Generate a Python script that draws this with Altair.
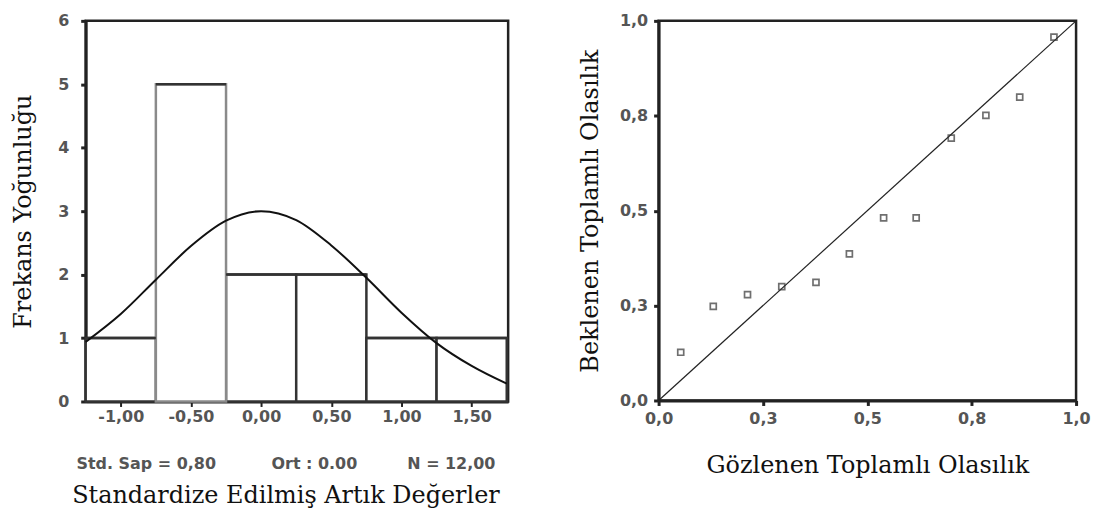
import altair as alt
import pandas as pd

# Histogram (left)
bin_start = [-1.25, -0.75, -0.25, 0.25, 0.75, 1.25]
bin_end = [-0.75, -0.25, 0.25, 0.75, 1.25, 1.75]
counts = [1, 5, 2, 2, 1, 1]
draw_order = [0, 5, 1, 2, 3, 4]  # tall bar drawn last (grey outline on top)
bar_stroke = ["#333333", "#8a8a8a", "#333333", "#333333", "#333333", "#333333"]

# Normal curve
curve_x = [-1.25, -1.0, -0.75, -0.5, -0.25, 0.0, 0.25, 0.5, 0.75, 1.0, 1.25, 1.5, 1.75]
curve_y = [0.94, 1.38, 1.92, 2.45, 2.85, 3.0, 2.86, 2.46, 1.95, 1.40, 0.92, 0.56, 0.28]

# P-P plot (right)
observed = [0.053, 0.131, 0.213, 0.295, 0.377, 0.457, 0.539, 0.617, 0.701, 0.784, 0.865, 0.947]
expected = [0.127, 0.248, 0.279, 0.300, 0.311, 0.386, 0.481, 0.481, 0.691, 0.751, 0.799, 0.957]
diag = [0.0, 1.0]

y_ticks_left = [0, 1, 2, 3, 4, 5, 6]
x_ticks_left = [-1.0, -0.5, 0.0, 0.5, 1.0, 1.5]
ticks_right = [0.0, 0.25, 0.5, 0.75, 1.0]

hist_df = pd.DataFrame({
    "start": bin_start, "end": bin_end, "count": counts,
    "order": draw_order, "stroke": bar_stroke,
})
curve_df = pd.DataFrame({"x": curve_x, "y": curve_y})
pp_df = pd.DataFrame({"obs": observed, "exp": expected})
diag_df = pd.DataFrame({"a": diag, "b": diag})

LABEL_FONT = "DejaVu Sans"
SERIF = "DejaVu Serif"
NB = "\u00a0"

xl = alt.Scale(domain=[-1.25, 1.76], nice=False, zero=False)
yl = alt.Scale(domain=[0, 6], nice=False)

x_axis_left = alt.Axis(
    values=x_ticks_left, title=None, grid=False, labelFlush=False,
    labelExpr="replace(replace(format(datum.value, '.2f'), '.', ','), '\u2212', '-')",
    labelFont=LABEL_FONT, labelFontSize=16, labelFontWeight="bold", labelColor="#555555",
    labelPadding=2, tickSize=5, tickWidth=2, tickColor="#222222",
    domainColor="#222222", domainWidth=3,
)
y_axis_left = alt.Axis(
    values=y_ticks_left, title="Frekans Yoğunluğu", grid=False, format="d", labelFlush=False,
    labelFont=LABEL_FONT, labelFontSize=16, labelFontWeight="bold", labelColor="#555555",
    labelPadding=12, tickSize=5, tickWidth=3, tickColor="#222222",
    domainColor="#222222", domainWidth=3,
    titleFont=SERIF, titleFontSize=24, titleFontWeight="normal", titleColor="#111111",
    titlePadding=22,
)

bars = alt.Chart(hist_df).mark_rect(fill="white", strokeWidth=2.5).encode(
    x=alt.X("start:Q", scale=xl, axis=x_axis_left),
    x2="end:Q",
    y=alt.Y("count:Q", scale=yl, axis=y_axis_left),
    y2=alt.datum(0),
    stroke=alt.Stroke("stroke:N", scale=None),
    order=alt.Order("order:Q"),
)

tops = alt.Chart(hist_df).mark_rule(color="#333333", strokeWidth=2.5).encode(
    x=alt.X("start:Q", scale=xl),
    x2="end:Q",
    y=alt.Y("count:Q", scale=yl),
)

curve = alt.Chart(curve_df).mark_line(
    color="#111111", strokeWidth=2, interpolate="monotone"
).encode(
    x=alt.X("x:Q", scale=xl),
    y=alt.Y("y:Q", scale=yl),
)

stats = "Std. Sap = 0,80" + NB * 10 + "Ort : 0.00" + NB * 9 + "N = 12,00"

left = alt.layer(bars, tops, curve).properties(
    width=424, height=382,
    title=alt.TitleParams(
        text=stats,
        subtitle="Standardize Edilmiş Artık Değerler",
        orient="bottom", anchor="middle", offset=32, dx=-11,
        font=LABEL_FONT, fontSize=16, fontWeight="bold", color="#555555",
        subtitleFont=SERIF, subtitleFontSize=24, subtitleColor="#111111",
        subtitlePadding=12,
    ),
)

pp_scale = alt.Scale(domain=[0, 1], nice=False)
label_expr_r = "replace(format(datum.value, '.1f'), '.', ',')"

x_axis_right = alt.Axis(
    values=ticks_right, title="Gözlenen Toplamlı Olasılık", grid=False, labelFlush=False,
    labelExpr=label_expr_r,
    labelFont=LABEL_FONT, labelFontSize=16, labelFontWeight="bold", labelColor="#555555",
    labelPadding=5, tickSize=5, tickWidth=3, tickColor="#222222",
    domainColor="#222222", domainWidth=3,
    titleFont=SERIF, titleFontSize=24, titleFontWeight="normal", titleColor="#111111",
    titlePadding=27,
)
y_axis_right = alt.Axis(
    values=ticks_right, title="Beklenen Toplamlı Olasılık", grid=False, labelFlush=False,
    labelExpr=label_expr_r,
    labelFont=LABEL_FONT, labelFontSize=16, labelFontWeight="bold", labelColor="#555555",
    labelPadding=6, tickSize=5, tickWidth=3, tickColor="#222222",
    domainColor="#222222", domainWidth=3,
    titleFont=SERIF, titleFontSize=24, titleFontWeight="normal", titleColor="#111111",
    titlePadding=17,
)

diag_line = alt.Chart(diag_df).mark_line(color="#222222", strokeWidth=1.2).encode(
    x=alt.X("a:Q", scale=pp_scale, axis=x_axis_right),
    y=alt.Y("b:Q", scale=pp_scale, axis=y_axis_right),
)
points = alt.Chart(pp_df).mark_point(
    shape="square", size=36, filled=False, color="#333333", strokeWidth=1.7
).encode(
    x=alt.X("obs:Q", scale=pp_scale),
    y=alt.Y("exp:Q", scale=pp_scale),
)

right = alt.layer(diag_line, points).properties(width=419, height=381)

chart = alt.hconcat(left, right, spacing=151, bounds="flush").properties(
    padding={"left": 10, "top": 10, "right": 5, "bottom": 5},
    background="white",
).configure_view(
    stroke="#222222", strokeWidth=2.5
)

chart.save("out.html", embed_options={"renderer": "svg", "actions": False})
